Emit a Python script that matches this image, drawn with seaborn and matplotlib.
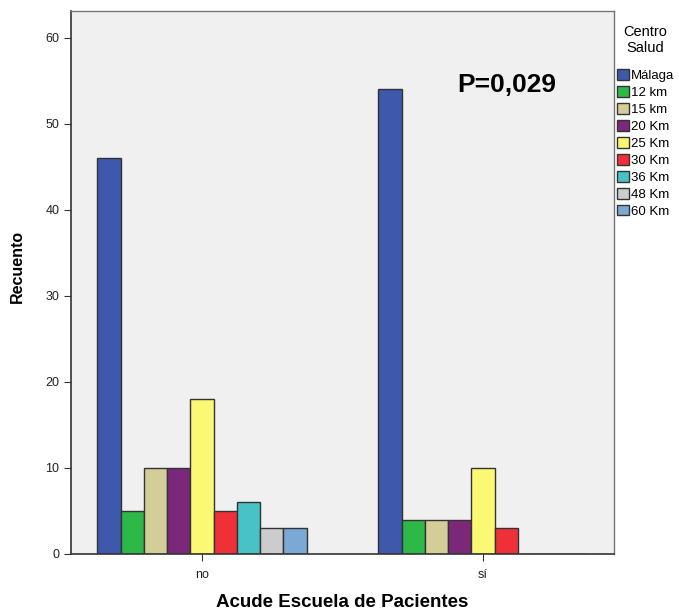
import pandas as pd
import matplotlib.pyplot as plt
import seaborn as sns

# datos
acude = ['no', 'sí']
centros = ['Málaga', '12 km', '15 km', '20 Km', '25 Km', '30 Km', '36 Km', '48 Km', '60 Km']
recuento_no = [46, 5, 10, 10, 18, 5, 6, 3, 3]
recuento_si = [54, 4, 4, 4, 10, 3, 0, 0, 0]
colores = ['#3E58AC', '#2EB848', '#D3CE97', '#7B287B', '#FBF873',
           '#EF3038', '#48C2C5', '#CCCCCC', '#7BA9D5']

df = pd.DataFrame({
    'Acude': [acude[0]] * len(centros) + [acude[1]] * len(centros),
    'Centro': centros * 2,
    'Recuento': recuento_no + recuento_si,
})

sns.set_style('ticks')
plt.rcParams['font.family'] = ['Liberation Sans', 'DejaVu Sans']
plt.rcParams['text.color'] = 'black'
plt.rcParams['axes.labelcolor'] = 'black'

fig = plt.figure(figsize=(6.79, 6.15), dpi=100)
ax = fig.add_axes([0.1046, 0.0992, 0.7997, 0.8828])
ax.set_facecolor('#F0F0F0')

sns.barplot(data=df, x='Acude', y='Recuento', hue='Centro', hue_order=centros,
            palette=colores, saturation=1, width=0.744, edgecolor='#333333',
            linewidth=1, ax=ax)

ax.set_xlim(-0.466, 1.466)
ax.set_ylim(0, 63.1)
ax.set_yticks([0, 10, 20, 30, 40, 50, 60])
ax.tick_params(labelsize=9, length=5, color='#333333', labelcolor='#222222')
ax.tick_params(axis='x', pad=6)
ax.set_xlabel('Acude Escuela de Pacientes', fontsize=13.5, fontweight='bold', labelpad=9)
ax.set_ylabel('Recuento', fontsize=11.5, fontweight='bold', labelpad=14)
ax.yaxis.set_label_coords(-0.085, 0.53)

for s in ['left', 'bottom']:
    ax.spines[s].set_color('#333333')
    ax.spines[s].set_linewidth(1.2)
for s in ['top', 'right']:
    ax.spines[s].set_visible(True)
    ax.spines[s].set_color('#777777')
    ax.spines[s].set_linewidth(1)

ax.text(0.803, 0.864, 'P=0,029', transform=ax.transAxes, fontsize=19,
        fontweight='bold', ha='center', va='center', color='black')

leg = ax.legend(title='Centro\nSalud', loc='upper left', bbox_to_anchor=(1.0, 0.98),
                frameon=False, fontsize=9.5, title_fontsize=10.5,
                handlelength=0.9, handleheight=0.9, handletextpad=0.2,
                labelspacing=0.3, borderaxespad=0.0, borderpad=0.2)
leg.get_title().set_multialignment('center')
leg._legend_box.sep = 10

plt.savefig('out.png', dpi=100)
